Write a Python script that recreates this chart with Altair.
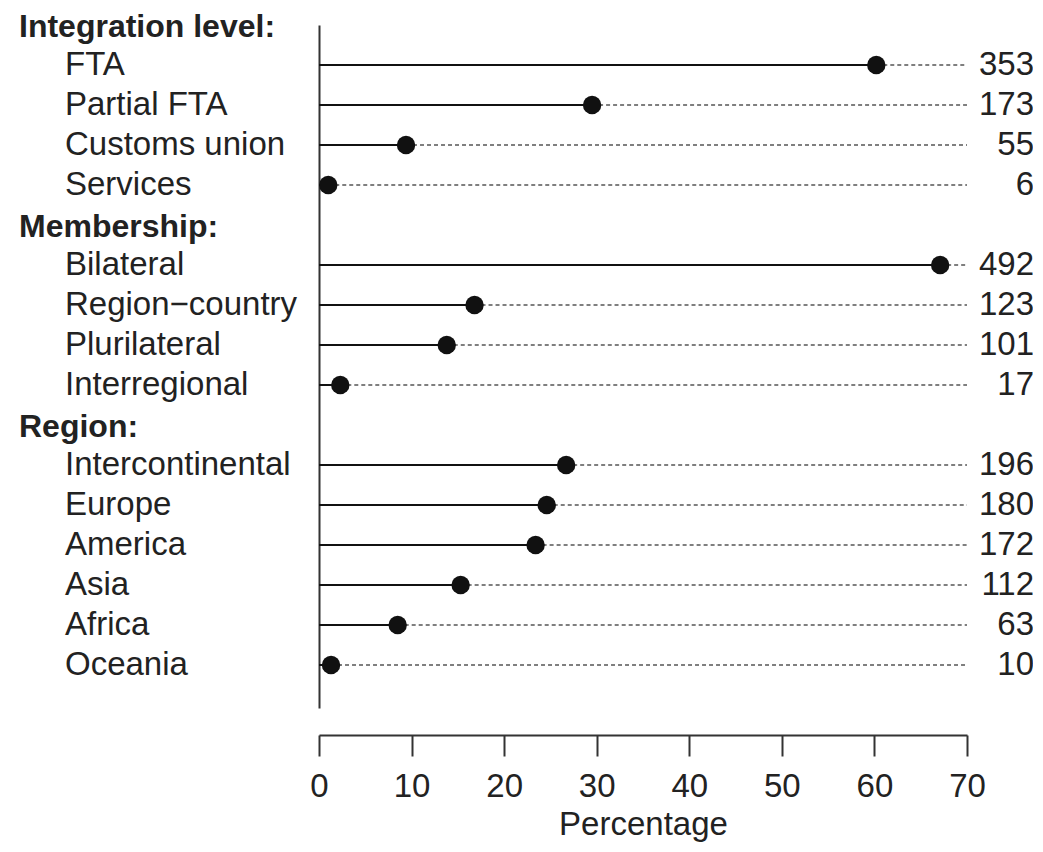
import altair as alt
import pandas as pd

group_titles = ["Integration level:", "Membership:", "Region:"]

integration_labels = ["FTA", "Partial FTA", "Customs union", "Services"]
integration_pct = [60.2, 29.5, 9.4, 1.0]
integration_n = [353, 173, 55, 6]

membership_labels = ["Bilateral", "Region\u2212country", "Plurilateral", "Interregional"]
membership_pct = [67.1, 16.8, 13.8, 2.3]
membership_n = [492, 123, 101, 17]

region_labels = ["Intercontinental", "Europe", "America", "Asia", "Africa", "Oceania"]
region_pct = [26.7, 24.6, 23.4, 15.3, 8.5, 1.3]
region_n = [196, 180, 172, 112, 63, 10]

x_ticks = [0, 10, 20, 30, 40, 50, 60, 70]

groups = [
    (group_titles[0], integration_labels, integration_pct, integration_n),
    (group_titles[1], membership_labels, membership_pct, membership_n),
    (group_titles[2], region_labels, region_pct, region_n),
]

head_rows, item_rows = [], []
r = 0
for title, labs, pcts, ns in groups:
    head_rows.append({"row": r, "label": title})
    r += 1
    for lab, p, n in zip(labs, pcts, ns):
        item_rows.append({"row": r, "label": lab, "pct": p, "n": str(n), "end": 70})
        r += 1

heads = pd.DataFrame(head_rows)
items = pd.DataFrame(item_rows)

FONT = "Liberation Sans"
FS = 33
W, H = 648, 683
ROWMAX = H / 40.0

y_enc = alt.Y("row:Q", scale=alt.Scale(domain=[0, ROWMAX], reverse=True, nice=False, zero=False),
              axis=alt.Axis(labels=False, ticks=False, grid=False, title=None,
                            domainColor="#333333", domainWidth=2))
x_scale = alt.Scale(domain=[0, 70], nice=False, zero=False)

base = alt.Chart(items)

dotted = base.mark_rule(strokeDash=[4, 3], color="#555555", strokeWidth=1.5).encode(
    x=alt.X("pct:Q", scale=x_scale,
            axis=alt.Axis(values=x_ticks, grid=False, title="Percentage", offset=27,
                          tickSize=21, tickWidth=2, tickColor="#333333",
                          domainColor="#333333", domainWidth=2,
                          labelFont=FONT, labelFontSize=FS, labelColor="#222222",
                          labelPadding=14, labelFontWeight="normal", labelFlush=False,
                          titleFont=FONT, titleFontSize=FS, titleColor="#222222",
                          titleFontWeight="normal", titlePadding=5)),
    x2="end:Q",
    y=y_enc,
)

solid = base.mark_rule(color="#111111", strokeWidth=2).encode(
    x=alt.X("zero:Q", scale=x_scale),
    x2="pct:Q",
    y="row:Q",
).transform_calculate(zero="0")

dots = base.mark_circle(color="#111111", opacity=1, size=340).encode(
    x=alt.X("pct:Q", scale=x_scale),
    y="row:Q",
)

item_text = base.mark_text(font=FONT, fontSize=FS, align="left", baseline="middle",
                           color="#222222").encode(
    x=alt.value(65 - 319), y="row:Q", text="label:N")

count_text = base.mark_text(font=FONT, fontSize=FS, align="right", baseline="middle",
                            color="#222222").encode(
    x=alt.value(1034 - 319), y="row:Q", text="n:N")

head_text = alt.Chart(heads).mark_text(font=FONT, fontSize=32, fontWeight="bold", align="left",
                                        baseline="middle", dy=2, color="#222222").encode(
    x=alt.value(19 - 319), y="row:Q", text="label:N")

chart = alt.layer(dotted, solid, dots, item_text, count_text, head_text).properties(
    width=W, height=H,
    autosize=alt.AutoSizeParams(type="none"),
    padding={"left": 311, "top": 17, "right": 66, "bottom": 136},
).configure(background="white").configure_view(strokeWidth=0, stroke=None)

chart.save("out.html", embed_options={"renderer": "svg", "actions": False})
